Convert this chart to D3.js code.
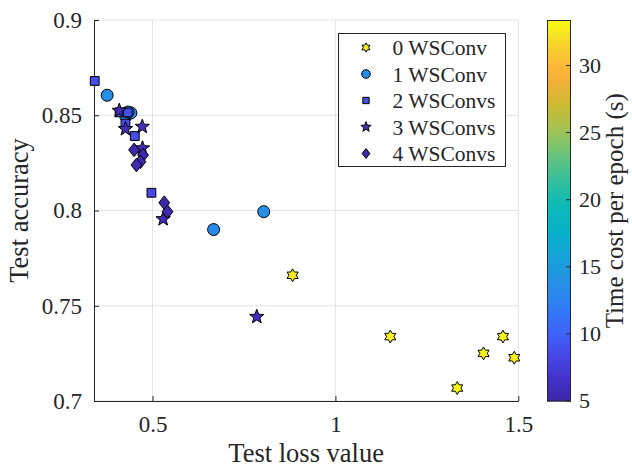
<!DOCTYPE html>
<html>
<head>
<meta charset="utf-8">
<script src="https://cdn.jsdelivr.net/npm/d3@7"></script>
<style>
  html, body { margin: 0; padding: 0; background: #fff; }
  svg { display: block; }
  text { font-family: "Liberation Serif", "Times New Roman", serif; fill: #262626; }
</style>
</head>
<body>
<svg id="chart" width="632" height="467"></svg>
<script>
// Series: test loss, test accuracy and time cost per epoch for each configuration
const groupNames = ["0 WSConv", "1 WSConv", "2 WSConvs", "3 WSConvs", "4 WSConvs"];

const loss0 = [0.883, 1.150, 1.333, 1.405, 1.458, 1.489];
const acc0  = [0.766, 0.7338, 0.7068, 0.725, 0.7338, 0.7227];
const time0 = [32.6, 33.0, 33.3, 32.8, 33.1, 32.9];

const loss1 = [0.376, 0.427, 0.441, 0.433, 0.667, 0.804];
const acc1  = [0.8605, 0.8494, 0.8512, 0.8517, 0.790, 0.7994];
const time1 = [13.6, 13.2, 13.8, 13.4, 13.0, 13.5];

const loss2 = [0.342, 0.410, 0.432, 0.426, 0.4515, 0.497];
const acc2  = [0.868, 0.8515, 0.8515, 0.8456, 0.8391, 0.8093];
const time2 = [8.7, 8.5, 8.9, 8.6, 8.8, 8.4];

const loss3 = [0.409, 0.472, 0.426, 0.4726, 0.529, 0.785];
const acc3  = [0.8524, 0.844, 0.8428, 0.8327, 0.7955, 0.7442];
const time3 = [5.9, 6.1, 5.8, 6.0, 5.7, 6.2];

const loss4 = [0.4496, 0.474, 0.467, 0.456, 0.532, 0.541];
const acc4  = [0.8318, 0.8291, 0.8256, 0.8239, 0.8041, 0.7994];
const time4 = [5.3, 5.2, 5.4, 5.3, 5.1, 5.2];

const xTicks = [0.5, 1, 1.5];
const xTickLabels = ["0.5", "1", "1.5"];
const yTicks = [0.7, 0.75, 0.8, 0.85, 0.9];
const yTickLabels = ["0.7", "0.75", "0.8", "0.85", "0.9"];
const cTicks = [5, 10, 15, 20, 25, 30];
const cTickLabels = ["5", "10", "15", "20", "25", "30"];
const xDomain = [0.34, 1.5];
const yDomain = [0.7, 0.9];
const cDomain = [4.93, 33.35];

const series = [
  { name: groupNames[0], shape: "hexagram", x: loss0, y: acc0, t: time0 },
  { name: groupNames[1], shape: "circle",   x: loss1, y: acc1, t: time1 },
  { name: groupNames[2], shape: "square",   x: loss2, y: acc2, t: time2 },
  { name: groupNames[3], shape: "star",     x: loss3, y: acc3, t: time3 },
  { name: groupNames[4], shape: "diamond",  x: loss4, y: acc4, t: time4 }
];

// parula-like colormap
const parulaStops = [
  [0.00, "#3e26a8"], [0.06, "#4432ca"], [0.12, "#4747e6"], [0.18, "#3f63f8"],
  [0.25, "#2f7ef4"], [0.32, "#2392e4"], [0.38, "#18a2d8"], [0.45, "#07b2c8"],
  [0.52, "#10bab5"], [0.58, "#35c09c"], [0.65, "#6cc479"], [0.72, "#a8c250"],
  [0.78, "#cfb932"], [0.84, "#f2b03a"], [0.88, "#fdb83a"], [0.94, "#f6d62a"],
  [1.00, "#f9fb14"]
];
const parula = d3.scaleLinear()
  .domain(parulaStops.map(d => d[0]))
  .range(parulaStops.map(d => d[1]))
  .interpolate(d3.interpolateRgb)
  .clamp(true);
const cNorm = d3.scaleLinear().domain(cDomain).range([0, 1]).clamp(true);
const colorOf = v => parula(cNorm(v));

const svg = d3.select("#chart");
const plot = { left: 94, right: 518.3, top: 20, bottom: 401 };

const x = d3.scaleLinear().domain(xDomain).range([plot.left, plot.right]);
const y = d3.scaleLinear().domain(yDomain).range([plot.bottom, plot.top]);

// grid
const grid = svg.append("g");
grid.selectAll("line.gx").data(xTicks).join("line")
  .attr("x1", d => x(d)).attr("x2", d => x(d))
  .attr("y1", plot.top).attr("y2", plot.bottom)
  .attr("stroke", "#e3e3e3").attr("stroke-width", 1);
grid.selectAll("line.gy").data(yTicks).join("line")
  .attr("x1", plot.left).attr("x2", plot.right)
  .attr("y1", d => y(d)).attr("y2", d => y(d))
  .attr("stroke", "#e3e3e3").attr("stroke-width", 1);

// axes (ticks pointing inward)
const xAxis = d3.axisBottom(x).tickValues(xTicks)
  .tickFormat((d, i) => xTickLabels[i]).tickSizeInner(-5).tickSizeOuter(0).tickPadding(15);
const yAxis = d3.axisLeft(y).tickValues(yTicks)
  .tickFormat((d, i) => yTickLabels[i]).tickSizeInner(-5).tickSizeOuter(0).tickPadding(12);

const gx = svg.append("g").attr("transform", `translate(0,${plot.bottom})`).call(xAxis);
const gy = svg.append("g").attr("transform", `translate(${plot.left},0)`).call(yAxis);
[gx, gy].forEach(g => {
  g.select(".domain").attr("stroke", "#262626").attr("stroke-width", 1);
  g.selectAll(".tick line").attr("stroke", "#262626");
  g.selectAll(".tick text").attr("font-size", 23)
    .attr("font-family", "Liberation Serif").attr("fill", "#262626");
});

// axis titles
svg.append("text")
  .attr("x", (plot.left + plot.right) / 2).attr("y", 462)
  .attr("text-anchor", "middle").attr("font-size", 26.5)
  .text("Test loss value");
svg.append("text")
  .attr("transform", `translate(28,${(plot.top + plot.bottom) / 2}) rotate(-90)`)
  .attr("text-anchor", "middle").attr("font-size", 26.5)
  .text("Test accuracy");

// marker shapes
function hexagramPath(r) {
  const pts = [];
  const ri = r * 0.58;
  for (let k = 0; k < 12; k++) {
    const a = -Math.PI / 2 + k * Math.PI / 6;
    const rr = k % 2 === 0 ? r : ri;
    pts.push([rr * Math.cos(a), rr * Math.sin(a)]);
  }
  return "M" + pts.map(p => p.join(",")).join("L") + "Z";
}
function starPath(r) {
  const pts = [];
  const ri = r * 0.42;
  for (let k = 0; k < 10; k++) {
    const a = -Math.PI / 2 + k * Math.PI / 5;
    const rr = k % 2 === 0 ? r : ri;
    pts.push([rr * Math.cos(a), rr * Math.sin(a)]);
  }
  return "M" + pts.map(p => p.join(",")).join("L") + "Z";
}
function markerPath(shape, s) {
  switch (shape) {
    case "hexagram": return hexagramPath(6.4 * s);
    case "circle": return d3.symbol(d3.symbolCircle, Math.PI * Math.pow(6 * s, 2))();
    case "square": { const h = 4.4 * s; return `M${-h},${-h}H${h}V${h}H${-h}Z`; }
    case "star": return starPath(7.5 * s);
    case "diamond": { const w = 5.4 * s, h = 6.8 * s; return `M0,${-h}L${w},0L0,${h}L${-w},0Z`; }
  }
}

// scatter
const marks = svg.append("g");
series.forEach(sr => {
  const pts = sr.x.map((v, i) => ({ x: v, y: sr.y[i], t: sr.t[i] }));
  marks.append("g").selectAll("path").data(pts).join("path")
    .attr("d", markerPath(sr.shape, 1))
    .attr("transform", d => `translate(${x(d.x)},${y(d.y)})`)
    .attr("fill", d => colorOf(d.t))
    .attr("stroke", "#000").attr("stroke-width", 1);
});

// legend
const lg = svg.append("g");
lg.append("rect").attr("x", 338.5).attr("y", 33.5).attr("width", 167).attr("height", 133)
  .attr("fill", "#fff").attr("stroke", "#262626").attr("stroke-width", 1);
series.forEach((sr, i) => {
  const cy = 47.5 + i * 26.5;
  lg.append("path").attr("d", markerPath(sr.shape, 0.72))
    .attr("transform", `translate(366,${cy})`)
    .attr("fill", colorOf(sr.t[0])).attr("stroke", "#000").attr("stroke-width", 1);
  lg.append("text").attr("x", 392.5).attr("y", cy).attr("dy", "0.35em")
    .attr("font-size", 21.5).text(sr.name);
});

// colorbar
const cb = { left: 547, width: 24, top: 20, bottom: 401.5 };
const cy = d3.scaleLinear().domain(cDomain).range([cb.bottom, cb.top]);
const defs = svg.append("defs");
const grad = defs.append("linearGradient").attr("id", "cbgrad")
  .attr("x1", 0).attr("y1", 1).attr("x2", 0).attr("y2", 0);
d3.range(0, 1.0001, 0.02).forEach(t => {
  grad.append("stop").attr("offset", t).attr("stop-color", parula(t));
});
svg.append("rect").attr("x", cb.left).attr("y", cb.top)
  .attr("width", cb.width).attr("height", cb.bottom - cb.top)
  .attr("fill", "url(#cbgrad)");
const cAxis = d3.axisRight(cy).tickValues(cTicks)
  .tickFormat((d, i) => cTickLabels[i]).tickSizeInner(-5).tickSizeOuter(0).tickPadding(8);
const gc = svg.append("g").attr("transform", `translate(${cb.left + cb.width},0)`).call(cAxis);
gc.select(".domain").remove();
gc.selectAll(".tick line").attr("stroke", "#262626");
gc.selectAll(".tick text").attr("font-size", 22)
  .attr("font-family", "Liberation Serif").attr("fill", "#262626");
svg.append("rect").attr("x", cb.left + 0.5).attr("y", cb.top + 0.5)
  .attr("width", cb.width - 1).attr("height", cb.bottom - cb.top - 1)
  .attr("fill", "none").attr("stroke", "#262626").attr("stroke-width", 1);
svg.append("text")
  .attr("transform", `translate(623,${(cb.top + cb.bottom) / 2}) rotate(-90)`)
  .attr("text-anchor", "middle").attr("font-size", 25)
  .text("Time cost per epoch (s)");
</script>
</body>
</html>
